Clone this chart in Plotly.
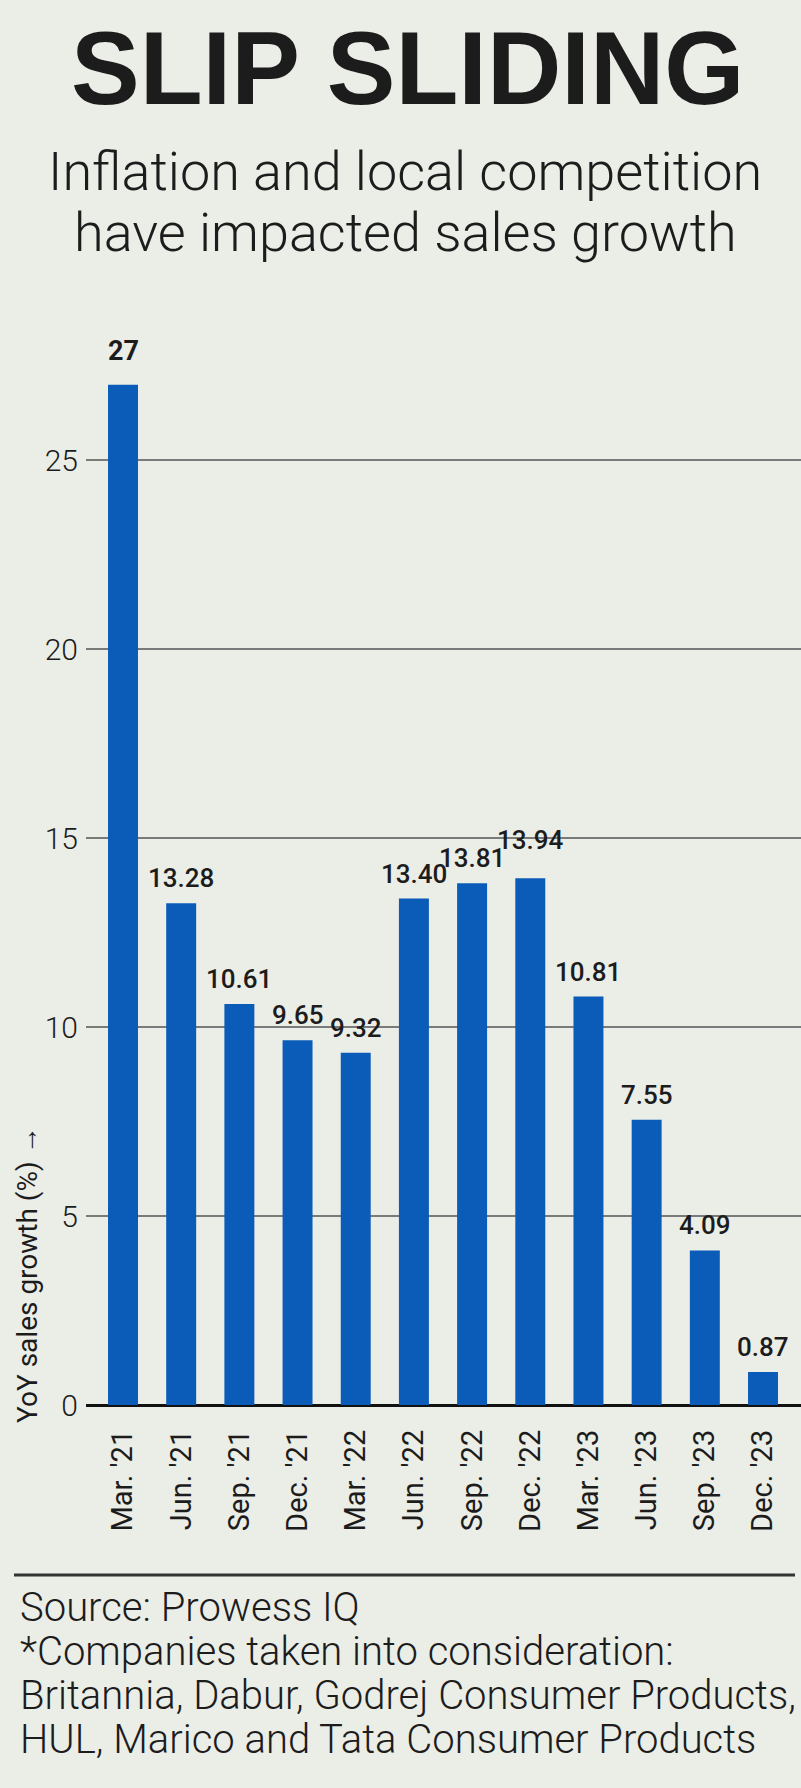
import plotly.graph_objects as go

# ---- data ----
categories = ["Mar. '21", "Jun. '21", "Sep. '21", "Dec. '21", "Mar. '22", "Jun. '22",
              "Sep. '22", "Dec. '22", "Mar. '23", "Jun. '23", "Sep. '23", "Dec. '23"]
values = [27, 13.28, 10.61, 9.65, 9.32, 13.40, 13.81, 13.94, 10.81, 7.55, 4.09, 0.87]
bar_labels = ["27", "13.28", "10.61", "9.65", "9.32", "13.40", "13.81", "13.94",
              "10.81", "7.55", "4.09", "0.87"]
y_ticks = [0, 5, 10, 15, 20, 25]

title_text = "SLIP SLIDING"
subtitle_lines = ["Inflation and local competition", "have impacted sales growth"]
y_title = "YoY sales growth (%) →"
footer_lines = ["Source: Prowess IQ",
                "*Companies taken into consideration:",
                "Britannia, Dabur, Godrej Consumer Products,",
                "HUL, Marico and Tata Consumer Products"]

# ---- layout geometry ----
W, H = 801, 1788
ML, MR, MT, MB = 86, 0, 328, 383
PW, PH = W - ML - MR, H - MT - MB
BG = "#ebede7"
INK = "#1c1c1c"
BLUE = "#0a5cb8"


def px_x(px):
    return (px - ML) / PW


def px_y(py):
    return (H - MB - py) / PH


fig = go.Figure()
fig.add_trace(go.Bar(
    x=categories, y=values, width=0.515,
    marker=dict(color=BLUE, line=dict(width=0)),
    hoverinfo="x+y",
))

# value labels (lift tweaks for crowded labels)
label_lift = {0: 8, 7: 13}
annotations = []
for i, (c, v, t) in enumerate(zip(categories, values, bar_labels)):
    annotations.append(dict(
        x=c, y=v, xref="x", yref="y", text=t, showarrow=False,
        yanchor="bottom", yshift=8 + label_lift.get(i, 0),
        font=dict(family="Roboto", size=26 if i else 27, color=INK,
                  weight=700 if i == 0 else 500),
    ))

# title & subtitle
annotations.append(dict(
    x=px_x(407), y=px_y(69), xref="paper", yref="paper", text=f"<b>{title_text}</b>",
    showarrow=False, xanchor="center", yanchor="middle",
    font=dict(family="Liberation Sans", size=103, color=INK),
))
for line, cy in zip(subtitle_lines, [172, 232]):
    annotations.append(dict(
        x=px_x(405), y=px_y(cy), xref="paper", yref="paper", text=line,
        showarrow=False, xanchor="center", yanchor="middle",
        font=dict(family="Roboto", size=54, color=INK, weight=300),
    ))

# y title
annotations.append(dict(
    x=px_x(27), y=px_y(1275), xref="paper", yref="paper", text=y_title,
    showarrow=False, xanchor="center", yanchor="middle", textangle=-90,
    font=dict(family="Roboto", size=28, color=INK, weight=400),
))

# footer
for line, cy in zip(footer_lines, [1607, 1651, 1695, 1739]):
    annotations.append(dict(
        x=px_x(18), y=px_y(cy), xref="paper", yref="paper", text=line,
        showarrow=False, xanchor="left", yanchor="middle",
        font=dict(family="Roboto", size=40, color=INK, weight=300),
    ))

fig.add_shape(type="line", xref="paper", yref="paper",
              x0=px_x(14), x1=px_x(795), y0=px_y(1575), y1=px_y(1575),
              line=dict(color="#333333", width=3))

fig.update_layout(
    width=W, height=H, autosize=False,
    margin=dict(l=ML, r=MR, t=MT, b=MB, pad=0),
    paper_bgcolor=BG, plot_bgcolor=BG,
    showlegend=False,
    annotations=annotations,
)
fig.update_xaxes(
    type="category", categoryorder="array", categoryarray=categories,
    range=[-0.636, 11.653], tickangle=-90, showgrid=False, showline=False,
    ticks="", ticklabelstandoff=18,
    tickfont=dict(family="Roboto", size=29, color=INK, weight=400),
)
fig.update_yaxes(
    range=[0, 28.5], tickvals=y_ticks, showgrid=True, gridcolor="#7a7a7a",
    gridwidth=2, zeroline=True, zerolinecolor="#111111", zerolinewidth=3,
    showline=False, ticks="", ticklabelstandoff=7,
    tickfont=dict(family="Roboto", size=30, color=INK, weight=300),
)

post = ("document.body.style.margin='0';document.body.style.padding='0';"
        "document.body.style.overflow='hidden';"
        f"document.body.style.background='{BG}';")
fig.write_html("out.html", post_script=post, config={"displayModeBar": False})
